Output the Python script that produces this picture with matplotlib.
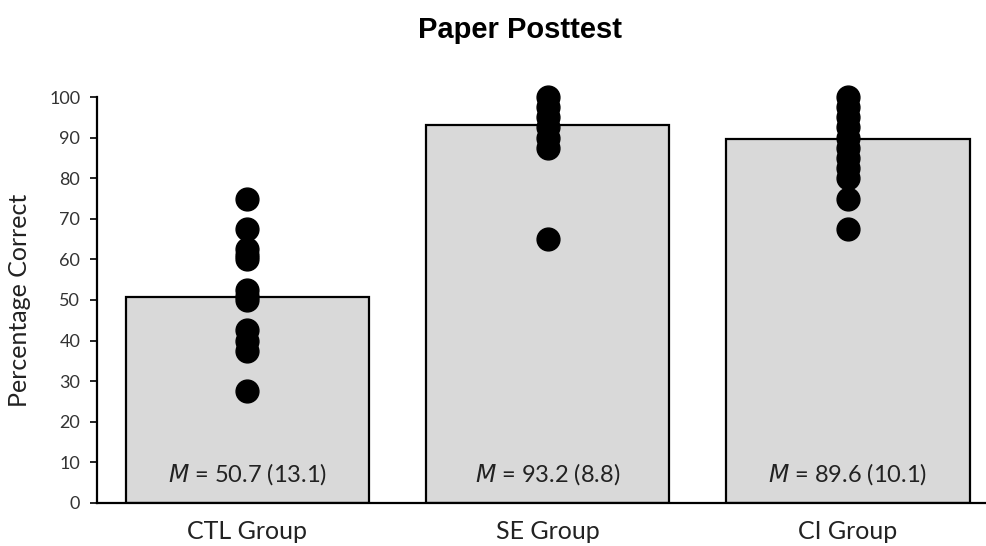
import numpy as np
import matplotlib
matplotlib.use("Agg")
import matplotlib.pyplot as plt

# === Data ===
groups = ["CTL Group", "SE Group", "CI Group"]
means = [50.7, 93.2, 89.6]
sds = [13.1, 8.8, 10.1]
scores = [
    [75, 67.5, 62.5, 61, 60, 52.5, 51, 50, 42.5, 40, 37.5, 27.5],
    [100, 97.5, 95, 92.5, 90, 87.5, 65],
    [100, 97.5, 95, 92.5, 90, 87.5, 85, 82.5, 80, 75, 67.5],
]
yticks = list(range(0, 101, 10))

plt.rcParams['font.family'] = ['Lato', 'DejaVu Sans']

fig = plt.figure(figsize=(9.86, 5.46), dpi=100)
ax = fig.add_axes([0.0984, 0.0788, 0.914, 0.7435])

x = np.arange(len(groups))
ax.bar(x, means, width=0.81, color='#d9d9d9', edgecolor='black', linewidth=1.6, zorder=1)

for i, vals in enumerate(scores):
    ax.scatter(np.full(len(vals), x[i]), vals, s=270, color='black', zorder=3, clip_on=False)

for i in range(len(groups)):
    ax.text(x[i], 7.0, f"$\\it{{M}}$ = {means[i]} ({sds[i]})", ha='center', va='center',
            fontsize=17, color='#222222', zorder=4)

ax.set_xlim(-0.5, 2.5)
ax.set_ylim(0, 100)
ax.set_yticks(yticks)
ax.tick_params(axis='y', direction='out', length=5, width=1.2, labelsize=13, labelcolor='#333333', pad=7)
ax.set_xticks(x)
ax.set_xticklabels(groups, fontsize=18)
ax.tick_params(axis='x', length=0, pad=12)
for lbl in ax.get_xticklabels():
    lbl.set_color('#222222')
ax.spines['top'].set_visible(False)
ax.spines['right'].set_visible(False)
ax.spines['left'].set_linewidth(1.6)
ax.spines['bottom'].set_linewidth(1.6)
ax.set_ylabel("Percentage Correct", fontsize=18, color='#222222')
ax.yaxis.set_label_coords(-0.073, 0.5)

fig.text(0.527, 0.945, "Paper Posttest", ha='center', va='center', fontsize=21,
         fontweight='bold', family='Liberation Sans')

fig.savefig("out.png", dpi=100)
